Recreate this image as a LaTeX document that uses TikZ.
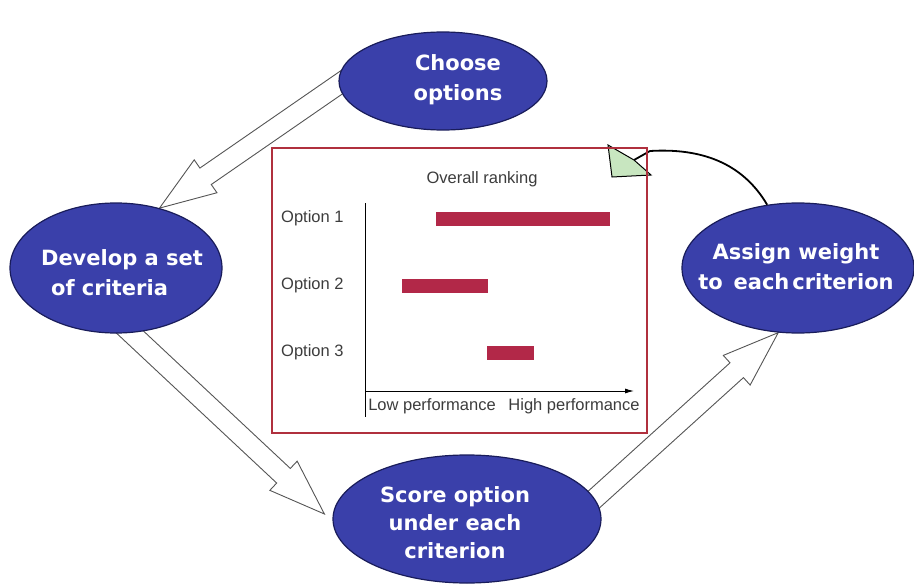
\documentclass[tikz,border=0pt]{standalone}
\usepackage{fontspec}
\setmainfont{Liberation Sans}
\setsansfont{DejaVu Sans}
\usetikzlibrary{calc,shapes.geometric,arrows.meta}
\definecolor{ellblue}{RGB}{58,64,170}
\definecolor{elledge}{RGB}{25,28,90}
\definecolor{boxred}{RGB}{176,48,62}
\definecolor{barred}{RGB}{178,40,72}
\definecolor{headgreen}{RGB}{200,230,192}
\definecolor{txtgray}{RGB}{60,60,60}
\definecolor{arrgray}{RGB}{85,85,85}
\newcommand\hollowarrow[2]{%
  \coordinate (hb) at ($(#2)!56pt!(#1)$);
  \draw[hollow] ($(#1)!10pt!90:(#2)$) -- ($(hb)!10pt!-90:(#1)$) -- ($(hb)!20pt!-90:(#1)$) -- (#2) -- ($(hb)!20pt!90:(#1)$) -- ($(hb)!10pt!90:(#1)$) -- ($(#1)!10pt!-90:(#2)$) -- cycle;}
\tikzset{
  ell/.style={ellipse, draw=elledge, line width=1.2pt, fill=ellblue, inner sep=0pt},
  elltext/.style={text=white, font=\sffamily\bfseries\fontsize{21}{30}\selectfont, align=center, inner sep=0pt},
  hollow/.style={draw=arrgray, fill=white, line width=0.9pt, line join=miter},
  charttxt/.style={text=txtgray, font=\fontsize{16.5}{19}\selectfont, inner sep=0pt},
  bar/.style={fill=barred},
  chartbox/.style={draw=boxred, line width=2.6pt, inner sep=0pt},
}
\begin{document}
\begin{tikzpicture}[x=1pt,y=-1pt]
\useasboundingbox (0,0) rectangle (914,586);
% ellipse centres
\coordinate (c1) at (443,81);
\coordinate (c2) at (116,268);
\coordinate (c3) at (798,268);
\coordinate (c4) at (467,519);
% invisible guides for arrow ends
\node[ell, draw=none, fill=none, minimum width=208, minimum height=98] (chooseg) at (c1) {};
\node[ell, draw=none, fill=none, minimum width=212, minimum height=130] (developg) at (c2) {};
\node[ell, draw=none, fill=none, minimum width=232, minimum height=130] (assigng) at (c3) {};
\node[ell, draw=none, fill=none, minimum width=268, minimum height=128] (scoreg) at (c4) {};
\coordinate (t1) at ($(chooseg.west)+(8,-2)$);
\coordinate (h1) at (developg.54);
\hollowarrow{t1}{h1}
\coordinate (t2) at ($(developg.-84)+(0,-8)$);
\coordinate (h2) at ($(scoreg.west)+(-8,-5)$);
\hollowarrow{t2}{h2}
\coordinate (t3) at ($(scoreg.8)+(-6,2)$);
\coordinate (h3) at (assigng.253);
\hollowarrow{t3}{h3}
% ellipses
\node[ell, minimum width=208, minimum height=98] (choose) at (c1) {};
\node[ell, minimum width=212, minimum height=130] (develop) at (c2) {};
\node[ell, minimum width=232, minimum height=130] (assign) at (c3) {};
\node[ell, minimum width=268, minimum height=128] (score) at (c4) {};
\node[elltext] (chooset) at (458,80) {Choose\\options};
\node[elltext, align=left] (developt) at (122,273) {Develop a set\\\hspace*{10pt}of criteria};
\node[elltext] (assignt) at (796,267) {Assign weight\\to \,each\hspace{3pt}criterion};
\node[elltext, font=\sffamily\bfseries\fontsize{21}{28}\selectfont] (scoret) at (455,523) {Score option\\under each\\criterion};
% curved arrow with green head
\coordinate (ctip) at (608,145);
\coordinate (cnotch) at (634,160);
\draw[line width=1.8pt] (assign.116) .. controls (742,162) and (700,148) .. (650,151) -- (cnotch);
\draw[fill=headgreen, line width=1pt, line join=miter] (ctip) -- (612,177) -- (651,175) -- (cnotch) -- cycle;
% chart box
\node[chartbox, minimum width=375, minimum height=285] (box) at (459.5,290.5) {};
\node[charttxt] (title) at (482,179) {Overall ranking};
\coordinate (ytop) at (365,203);
\coordinate (ybot) at (365,417);
\coordinate (xl) at (365,391);
\coordinate (xr) at (634,391);
\draw[line width=1pt] (ytop) -- (ybot);
\draw[line width=1pt, -{Latex[length=9pt,width=5pt]}] (xl) -- (xr);
\node[charttxt, anchor=west] (o1) at (281,218) {Option 1};
\node[charttxt, anchor=west] (o2) at (281,285) {Option 2};
\node[charttxt, anchor=west] (o3) at (281,352) {Option 3};
\fill[bar] (436,212) rectangle (610,226);
\fill[bar] (402,279) rectangle (488,293);
\fill[bar] (487,346) rectangle (534,360);
\node[charttxt] (low) at (432,406) {Low performance};
\node[charttxt] (high) at (574,406) {High performance};
\end{tikzpicture}
\end{document}
